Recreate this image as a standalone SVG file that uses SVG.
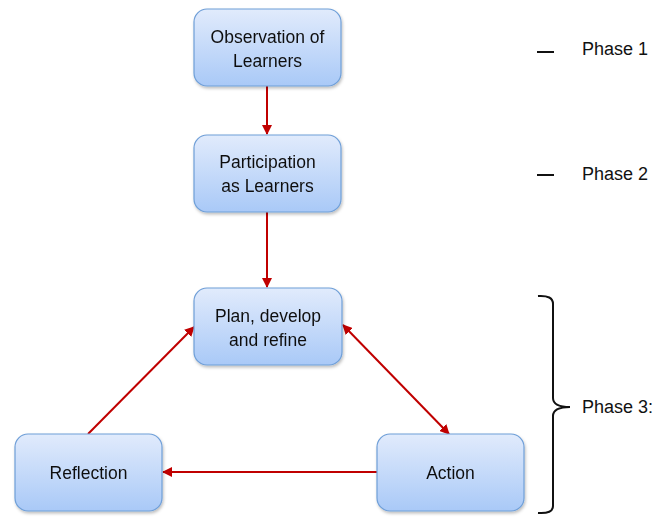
<svg xmlns="http://www.w3.org/2000/svg" width="668" height="517" viewBox="0 0 668 517">
<style>
.box{fill:url(#g);stroke:#6f9fd8;stroke-width:1.2}
.t{font-family:"Liberation Sans",Arial,sans-serif;font-size:17.5px;fill:#111;text-anchor:middle}
.p{font-family:"Liberation Sans",Arial,sans-serif;font-size:18px;fill:#111}
.c{stroke:#c00000;stroke-width:2;fill:none}
</style>
<defs>
<linearGradient id="g" x1="0" y1="0" x2="0" y2="1">
<stop offset="0" stop-color="#e1ebfc"/>
<stop offset="1" stop-color="#a9c9f7"/>
</linearGradient>
<filter id="sh" x="-10%" y="-10%" width="130%" height="130%">
<feDropShadow dx="1" dy="2" stdDeviation="1.5" flood-color="#000" flood-opacity="0.25"/>
</filter>
<marker id="ah" viewBox="0 0 10 10" refX="9" refY="5" markerWidth="5" markerHeight="5" orient="auto-start-reverse">
<path d="M0,0 L10,5 L0,10 z" fill="#c00000"/>
</marker>
</defs>
<g id="connectors">
<line class="c" x1="267" y1="86" x2="267" y2="134" marker-end="url(#ah)"/>
<line class="c" x1="267" y1="212" x2="267" y2="287" marker-end="url(#ah)"/>
<line class="c" x1="88" y1="434" x2="194" y2="327" marker-end="url(#ah)"/>
<line class="c" x1="343" y1="325" x2="449" y2="434" marker-start="url(#ah)" marker-end="url(#ah)"/>
<line class="c" x1="377" y1="472" x2="163" y2="472" marker-end="url(#ah)"/>
</g>
<g id="n1" filter="url(#sh)">
<rect class="box" x="194" y="9" width="147" height="77" rx="13"/>
<text class="t" x="267.5" y="43">Observation of</text>
<text class="t" x="267.5" y="67">Learners</text>
</g>
<g id="n2" filter="url(#sh)">
<rect class="box" x="194" y="135" width="147" height="77" rx="13"/>
<text class="t" x="267.5" y="168">Participation</text>
<text class="t" x="267.5" y="192">as Learners</text>
</g>
<g id="n3" filter="url(#sh)">
<rect class="box" x="194" y="288" width="148" height="77" rx="13"/>
<text class="t" x="268" y="322">Plan, develop</text>
<text class="t" x="268" y="346">and refine</text>
</g>
<g id="n4" filter="url(#sh)">
<rect class="box" x="15" y="434" width="147" height="77" rx="13"/>
<text class="t" x="88.5" y="479">Reflection</text>
</g>
<g id="n5" filter="url(#sh)">
<rect class="box" x="377" y="434" width="147" height="77" rx="13"/>
<text class="t" x="450.5" y="479">Action</text>
</g>
<g id="labels">
<line x1="537" y1="52" x2="554" y2="52" stroke="#111" stroke-width="2"/>
<text class="p" x="582" y="55">Phase 1</text>
<line x1="537" y1="175" x2="554" y2="175" stroke="#111" stroke-width="2"/>
<text class="p" x="582" y="180">Phase 2</text>
<path d="M538,296 Q553,295 553,304 L553,398 Q553,407 570,407 Q553,407 553,416 L553,506 Q553,514 538,513" fill="none" stroke="#111" stroke-width="2"/>
<text class="p" x="582" y="413">Phase 3:</text>
</g>
</svg>
